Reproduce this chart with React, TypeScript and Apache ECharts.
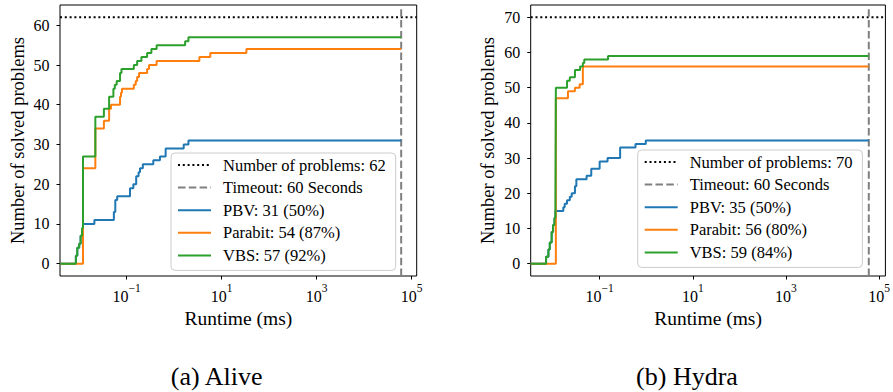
import React, { useEffect, useRef } from "react";
import * as echarts from "echarts";

const FONT = "Times New Roman";

// Runtimes are stored as log10(runtime in ms) at which a solver's solved count steps up.
// ---- Alive ----
const alivePbvLogMs = [-2.07, -2.04, -2.0, -1.97, -1.94, -1.92, -1.68, -1.27, -1.24, -1.2, -0.93, -0.86, -0.8, -0.75, -0.72, -0.66, -0.44, -0.3, -0.18, 0.2, 0.3];
const alivePbvSolved = [2, 4, 5, 7, 8, 10, 11, 13, 16, 17, 19, 20, 22, 23, 24, 25, 26, 27, 29, 30, 31];
const aliveParabitLogMs = [-1.92, -1.66, -1.48, -1.37, -1.33, -1.14, -1.12, -1.1, -0.85, -0.81, -0.78, -0.74, -0.57, -0.53, -0.37, 0.53, 0.76, 1.52];
const aliveParabitSolved = [24, 34, 36, 39, 40, 42, 43, 44, 45, 46, 47, 48, 49, 50, 51, 52, 53, 54];
const aliveVbsLogMs = [-2.07, -2.04, -2.0, -1.97, -1.94, -1.92, -1.66, -1.48, -1.37, -1.28, -1.25, -1.21, -1.14, -1.11, -0.85, -0.78, -0.69, -0.57, -0.48, -0.37, 0.23, 0.3];
const aliveVbsSolved = [2, 4, 5, 7, 9, 27, 37, 39, 42, 44, 45, 46, 48, 49, 50, 51, 52, 53, 54, 55, 56, 57];
const aliveProblems = 62;

// ---- Hydra ----
const hydraPbvLogMs = [-2.15, -2.1, -2.07, -2.03, -2.0, -1.97, -1.95, -1.78, -1.75, -1.7, -1.64, -1.6, -1.53, -1.5, -1.28, -1.18, -1.0, -0.83, -0.56, -0.23, -0.01];
const hydraPbvSolved = [2, 4, 6, 9, 11, 13, 15, 16, 17, 18, 19, 20, 22, 24, 25, 27, 29, 30, 33, 34, 35];
const hydraParabitLogMs = [-1.94, -1.68, -1.53, -1.43, -1.36];
const hydraParabitSolved = [47, 49, 50, 51, 56];
const hydraVbsLogMs = [-2.15, -2.1, -2.07, -2.03, -2.0, -1.97, -1.95, -1.94, -1.7, -1.64, -1.53, -1.42, -1.36, -1.33, -0.82];
const hydraVbsSolved = [2, 4, 6, 9, 11, 13, 15, 50, 52, 53, 55, 56, 57, 58, 59];
const hydraProblems = 70;

const timeoutMs = 60000;
const timeoutLabel = "Timeout: 60 Seconds";

// axis extents (log10 ms for x)
const aliveXRange = [-2.404, 5.105];
const hydraXRange = [-2.48, 5.135];
const aliveYRange = [-3.1, 65.1];
const hydraYRange = [-3.5, 73.5];
const xTickExponents = [-1, 1, 3, 5];
const aliveYTicks = [0, 10, 20, 30, 40, 50, 60];
const hydraYTicks = [0, 10, 20, 30, 40, 50, 60, 70];

const captions = ["(a) Alive", "(b) Hydra"];

const BLUE = "#1f77b4";
const ORANGE = "#ff7f0e";
const GREEN = "#2ca02c";

function stepData(xs: number[], ys: number[], xStart: number, xEnd: number) {
  const d: number[][] = [[xStart, 0]];
  xs.forEach((x, i) => d.push([x, ys[i]]));
  d.push([xEnd, ys[ys.length - 1]]);
  return d;
}

function pct(n: number, total: number) {
  return Math.round((n / total) * 100);
}

function buildPanel(
  idx: number,
  xr: number[],
  yr: number[],
  problems: number,
  pbv: [number[], number[]],
  parabit: [number[], number[]],
  vbs: [number[], number[]]
) {
  const tLog = Math.log10(timeoutMs);
  const pbvLast = pbv[1][pbv[1].length - 1];
  const parLast = parabit[1][parabit[1].length - 1];
  const vbsLast = vbs[1][vbs[1].length - 1];
  const names = [
    `Number of problems: ${problems}`,
    timeoutLabel,
    `PBV: ${pbvLast} (${pct(pbvLast, problems)}%)`,
    `Parabit: ${parLast} (${pct(parLast, problems)}%)`,
    `VBS: ${vbsLast} (${pct(vbsLast, problems)}%)`,
  ];
  const common = { type: "line", xAxisIndex: idx, yAxisIndex: idx, symbol: "none", silent: true };
  const series = [
    {
      ...common,
      name: names[0],
      data: [[xr[0], problems], [xr[1], problems]],
      lineStyle: { color: "#000", width: 2, type: [2, 2.8] },
      itemStyle: { color: "#000" },
    },
    {
      ...common,
      name: names[1],
      data: [[tLog, yr[0]], [tLog, yr[1]]],
      lineStyle: { color: "#808080", width: 2, type: [7.5, 3.3] },
      itemStyle: { color: "#808080" },
    },
    {
      ...common,
      name: names[2],
      step: "end",
      data: stepData(pbv[0], pbv[1], xr[0], tLog),
      lineStyle: { color: BLUE, width: 2 },
      itemStyle: { color: BLUE },
    },
    {
      ...common,
      name: names[3],
      step: "end",
      data: stepData(parabit[0], parabit[1], xr[0], tLog),
      lineStyle: { color: ORANGE, width: 2 },
      itemStyle: { color: ORANGE },
    },
    {
      ...common,
      name: names[4],
      step: "end",
      data: stepData(vbs[0], vbs[1], xr[0], tLog),
      lineStyle: { color: GREEN, width: 2 },
      itemStyle: { color: GREEN },
    },
  ];
  return { names, series };
}

export default function App() {
  const ref = useRef<HTMLDivElement>(null);

  useEffect(() => {
    if (!ref.current) return;
    const chart = echarts.init(ref.current, undefined, { renderer: "svg" });

    const left = buildPanel(0, aliveXRange, aliveYRange, aliveProblems,
      [alivePbvLogMs, alivePbvSolved], [aliveParabitLogMs, aliveParabitSolved], [aliveVbsLogMs, aliveVbsSolved]);
    const right = buildPanel(1, hydraXRange, hydraYRange, hydraProblems,
      [hydraPbvLogMs, hydraPbvSolved], [hydraParabitLogMs, hydraParabitSolved], [hydraVbsLogMs, hydraVbsSolved]);

    const xAxisBase = (xr: number[], gridIndex: number) => ({
      type: "value",
      gridIndex,
      min: xr[0],
      max: xr[1],
      name: "Runtime (ms)",
      nameLocation: "middle",
      nameGap: 29,
      nameTextStyle: { fontFamily: FONT, fontSize: 19.5, color: "#000" },
      axisLine: { show: false, onZero: false },
      splitLine: { show: false },
      axisTick: { show: true, customValues: xTickExponents, length: 3.5, lineStyle: { color: "#000", width: 1 } },
      axisLabel: {
        customValues: xTickExponents,
        margin: 6,
        formatter: (v: number) => `{b|10}{s|${v < 0 ? "\u2212" : ""}${Math.abs(v)}}`,
        rich: {
          b: { fontFamily: FONT, fontSize: 16, color: "#000", lineHeight: 22, verticalAlign: "bottom" },
          s: { fontFamily: FONT, fontSize: 11.5, color: "#000", lineHeight: 22, verticalAlign: "top" },
        },
      },
    });

    const yAxisBase = (yr: number[], ticks: number[], gridIndex: number) => ({
      type: "value",
      gridIndex,
      min: yr[0],
      max: yr[1],
      name: "Number of solved problems",
      nameLocation: "middle",
      nameGap: 33,
      nameTextStyle: { fontFamily: FONT, fontSize: 18.5, color: "#000" },
      axisLine: { show: false, onZero: false },
      splitLine: { show: false },
      axisTick: { show: true, customValues: ticks, length: 3.5, lineStyle: { color: "#000", width: 1 } },
      axisLabel: { customValues: ticks, margin: 10.5, fontFamily: FONT, fontSize: 16, color: "#000" },
    });

    const legendBase = (names: string[], l: number, t: number) => ({
      orient: "vertical",
      left: l,
      top: t,
      data: names,
      itemWidth: 33,
      itemHeight: 18,
      itemGap: 4.6,
      padding: [3, 10, 6, 6],
      backgroundColor: "rgba(255,255,255,0.8)",
      borderColor: "#cccccc",
      borderWidth: 1,
      borderRadius: 4,
      selectedMode: false,
      itemStyle: { color: "rgba(0,0,0,0)", borderColor: "rgba(0,0,0,0)", borderWidth: 0 },
      textStyle: { fontFamily: FONT, fontSize: 16.5, color: "#000", lineHeight: 18, padding: [0, 0, 0, 7] },
    });

    chart.setOption({
      animation: false,
      backgroundColor: "#ffffff",
      textStyle: { fontFamily: FONT },
      title: [
        { text: captions[0], left: 216.7, top: 363, textAlign: "center", padding: 0,
          textStyle: { fontFamily: FONT, fontSize: 26, fontWeight: "normal", color: "#000" } },
        { text: captions[1], left: 687, top: 363, textAlign: "center", padding: 0,
          textStyle: { fontFamily: FONT, fontSize: 26, fontWeight: "normal", color: "#000" } },
      ],
      grid: [
        { left: 60, top: 5, width: 356.7, height: 271, show: true, borderColor: "#000", borderWidth: 1, backgroundColor: "transparent" },
        { left: 530.7, top: 5, width: 356.6, height: 271, show: true, borderColor: "#000", borderWidth: 1, backgroundColor: "transparent" },
      ],
      xAxis: [xAxisBase(aliveXRange, 0), xAxisBase(hydraXRange, 1)],
      yAxis: [yAxisBase(aliveYRange, aliveYTicks, 0), yAxisBase(hydraYRange, hydraYTicks, 1)],
      legend: [legendBase(left.names, 171, 153), legendBase(right.names, 637.7, 150)],
      series: [...left.series, ...right.series],
    });

    return () => chart.dispose();
  }, []);

  return (
    <div
      ref={ref}
      style={{ position: "absolute", left: 0, top: 0, width: 893, height: 392 }}
    />
  );
}
